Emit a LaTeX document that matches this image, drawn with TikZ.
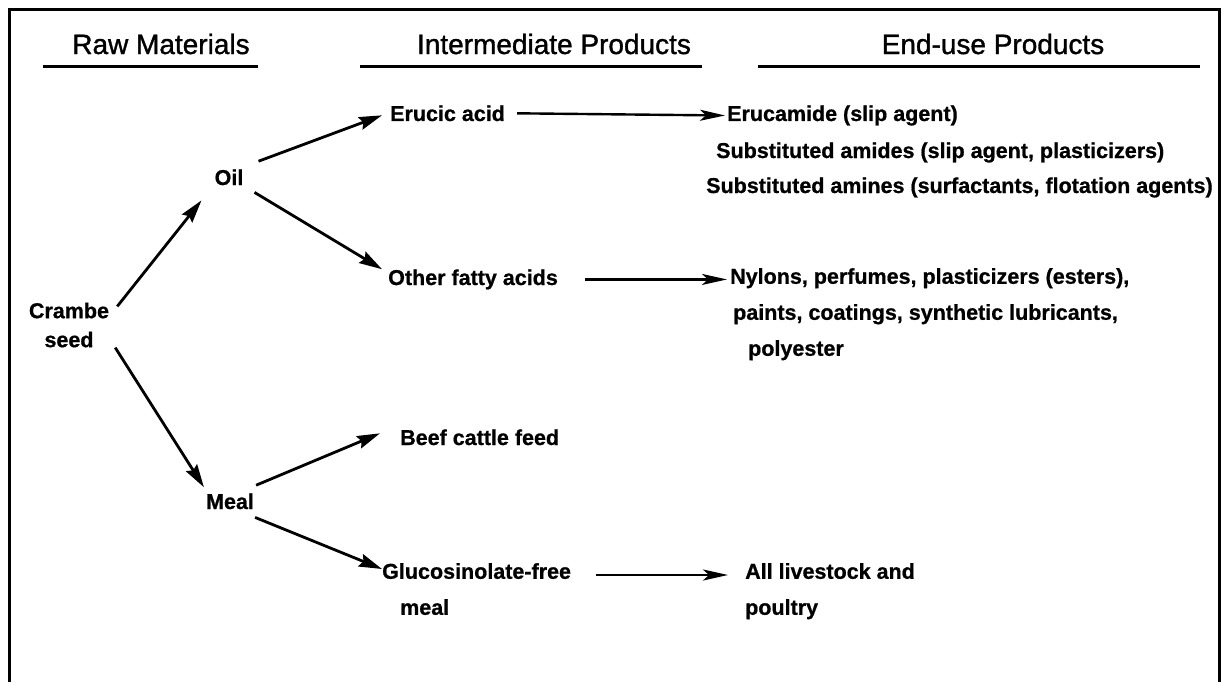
\documentclass[tikz,border=0pt]{standalone}
\usepackage{fontspec}
\setmainfont{Liberation Sans}
\newfontfamily\hdrfont{Liberation Sans}[FakeBold=1.2]
\newfontfamily\lblfont{Liberation Sans Bold}[FakeBold=0.8]
\usetikzlibrary{arrows.meta}
\begin{document}
\begin{tikzpicture}[x=1pt,y=-1pt,
  lbl/.style={font=\lblfont\fontsize{21.5}{36}\selectfont, inner sep=0pt},
  hdr/.style={font=\hdrfont\fontsize{28}{32}\selectfont, inner sep=0pt},
  arr/.style={line width=2.8pt, -{Stealth[length=23pt,width=13pt,inset=3pt]}},
  harr/.style={line width=2.4pt, -{Stealth[length=25pt,width=11pt,inset=6pt]}},
  rule/.style={line width=3pt}]
\useasboundingbox (0,0) rectangle (1230,682);
\draw[rule] (9,682) -- (9,10) -- (1219,10) -- (1219,682);
% headers
\node[hdr] (h1) at (161,44) {Raw Materials};
\node[hdr] (h2) at (554,44) {Intermediate Products};
\node[hdr] (h3) at (993,44) {End-use Products};
\draw[rule] (43,67) -- (258,67);
\draw[rule] (360,67) -- (702,67);
\draw[rule] (758,67) -- (1200,67);
% raw
\node[lbl, align=center, font=\lblfont\fontsize{21.5}{29}\selectfont] (crambe) at (69,325) {Crambe\\seed};
\node[lbl, anchor=base] (oil) at (229,185) {Oil};
\node[lbl, anchor=base] (meal) at (230,509) {Meal};
% intermediate
\node[lbl, anchor=base west] (erucic) at (390,121) {Erucic acid};
\node[lbl, anchor=base west] (other) at (388,285) {Other fatty acids};
\node[lbl, anchor=base west] (beef) at (400,445) {Beef cattle feed};
\node[lbl, anchor=north west, align=left] (gluco) at (382,563) {Glucosinolate-free\\\hspace*{18pt}meal};
% end use
\node[lbl, anchor=base west] (erucamide) at (727,121) {Erucamide (slip agent)};
\node[lbl, anchor=base west] (amides) at (716,158) {Substituted amides (slip agent, plasticizers)};
\node[lbl, anchor=base west] (amines) at (706,193) {Substituted amines (surfactants, flotation agents)};
\node[lbl, anchor=north west, align=left] (nylons) at (730,268) {Nylons, perfumes, plasticizers (esters),\\\hspace*{3pt}paints, coatings, synthetic lubricants,\\\hspace*{18pt}polyester};
\node[lbl, anchor=north west, align=left] (livestock) at (745,563) {All livestock and\\poultry};
% connectors
\draw[arr] ([shift={(8,4)}]crambe.north east) -- ([shift={(-13,15)}]oil.south west);
\draw[arr] ([shift={(6,0)}]crambe.south east) -- ([shift={(-2,-6)}]meal.north west);
\draw[arr] ([shift={(15,-8)}]oil.north east) -- ([shift={(-8,2)}]erucic.west);
\draw[arr] ([shift={(11,7)}]oil.south east) -- ([shift={(-6,0)}]other.north west);
\draw[arr] ([shift={(2,-8)}]meal.north east) -- ([shift={(-20,-4)}]beef.west);
\draw[arr] ([shift={(1,8)}]meal.south east) -- ([shift={(0,6)}]gluco.north west);
\draw[harr] ([xshift=12pt]erucic.east) -- ([xshift=-2pt]erucamide.west);
\draw[harr] ([xshift=27pt]other.east) -- ([xshift=-3pt]nylons.west |- other.east);
\draw[harr] ([shift={(25,12)}]gluco.north east) -- ([shift={(-17,12)}]livestock.north west);
\end{tikzpicture}
\end{document}
